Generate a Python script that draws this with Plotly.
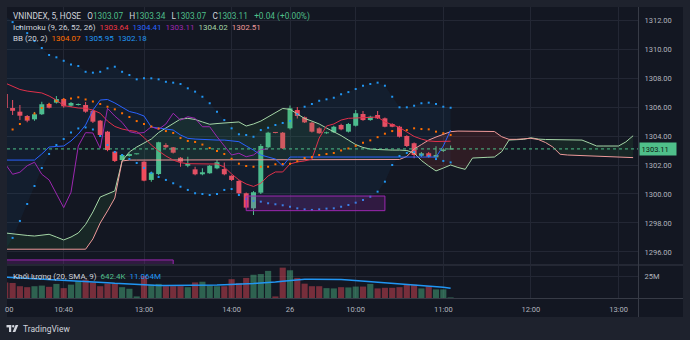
import plotly.graph_objects as go

# ---------------- data ----------------
opens = [1306.90, 1305.93, 1305.68, 1305.38, 1305.15, 1305.50, 1306.21, 1306.30, 1306.55, 1306.09,
         1306.14, 1306.14, 1305.74, 1305.06, 1304.30, 1302.92, 1302.34, 1302.62, 1302.74, 1302.23,
         1300.97, 1301.38, 1303.38, 1303.22, 1302.50, 1301.95, 1301.70, 1301.36, 1301.43, 1301.77,
         1301.72, 1301.26, 1300.90, 1300.05, 1299.01, 1300.09, 1303.22, 1304.23, 1304.23, 1304.53,
         1305.79, 1305.29, 1304.92, 1304.53, 1304.19, 1304.26, 1304.76, 1304.30, 1304.71, 1305.52,
         1305.10, 1305.45, 1305.22, 1304.83, 1304.64, 1304.00, 1303.50, 1302.64, 1302.81, 1302.53,
         1302.97, 1303.07]
highs = [1307.00, 1306.48, 1306.14, 1305.45, 1305.66, 1306.37, 1306.30, 1306.76, 1306.62, 1306.35,
         1306.25, 1306.34, 1305.80, 1305.10, 1304.35, 1302.97, 1302.75, 1302.80, 1302.78, 1302.25,
         1301.55, 1303.60, 1303.50, 1303.25, 1302.55, 1302.57, 1301.88, 1301.77, 1302.00, 1302.34,
         1302.17, 1301.30, 1300.95, 1300.10, 1300.20, 1303.45, 1304.30, 1304.25, 1304.28, 1306.10,
         1306.00, 1305.35, 1304.98, 1304.60, 1304.30, 1304.70, 1304.85, 1304.90, 1305.79, 1305.72,
         1305.40, 1305.72, 1305.28, 1304.88, 1304.70, 1304.05, 1303.55, 1302.90, 1302.90, 1303.29,
         1303.15, 1303.34]
lows = [1305.85, 1305.45, 1305.10, 1304.95, 1305.05, 1305.45, 1305.90, 1306.25, 1305.95, 1306.00,
        1306.10, 1305.60, 1304.90, 1303.93, 1302.95, 1302.20, 1302.30, 1302.58, 1302.72, 1300.88,
        1300.85, 1301.30, 1303.15, 1302.80, 1301.88, 1301.85, 1301.30, 1301.30, 1301.40, 1301.70,
        1301.30, 1300.90, 1300.00, 1299.00, 1298.55, 1300.00, 1303.15, 1304.19, 1303.10, 1304.45,
        1305.20, 1304.90, 1304.25, 1304.15, 1304.15, 1304.20, 1304.40, 1304.25, 1304.65, 1305.05,
        1305.05, 1305.18, 1304.60, 1304.60, 1303.90, 1303.25, 1302.46, 1302.55, 1302.50, 1302.48,
        1302.90, 1303.07]
closes = [1305.93, 1305.74, 1305.40, 1305.06, 1305.50, 1306.19, 1305.95, 1306.55, 1306.05, 1306.28,
          1306.21, 1305.68, 1304.99, 1304.07, 1303.03, 1302.28, 1302.69, 1302.76, 1302.76, 1300.92,
          1301.47, 1303.57, 1303.22, 1302.85, 1302.23, 1302.07, 1301.36, 1301.50, 1301.95, 1302.19,
          1301.36, 1300.97, 1300.05, 1299.06, 1300.12, 1303.31, 1304.23, 1304.21, 1303.15, 1305.91,
          1305.38, 1304.94, 1304.30, 1304.19, 1304.24, 1304.64, 1304.46, 1304.83, 1305.57, 1305.10,
          1305.33, 1305.22, 1304.64, 1304.64, 1303.95, 1303.31, 1302.69, 1302.81, 1302.57, 1302.69,
          1303.07, 1303.11]
volumes_m = [17.7, 17.1, 13.4, 12.3, 13.4, 14.1, 12.7, 16.0, 11.2, 15.2,
             19.2, 20.7, 17.7, 13.4, 16.3, 16.3, 12.3, 10.5, 1.8, 25.0,
             15.2, 16.0, 13.4, 13.4, 13.4, 12.3, 17.7, 18.5, 14.1, 13.4,
             13.4, 21.4, 17.1, 22.8, 26.4, 27.2, 30.8, 1.8, 34.5, 31.5,
             22.8, 16.3, 13.4, 13.4, 11.2, 10.9, 12.3, 12.0, 13.0, 13.0,
             16.0, 10.9, 11.6, 11.6, 12.3, 15.2, 15.2, 10.9, 13.4, 9.8,
             9.8, 0.6424]
vol_ma_m = [23.6, 23.2, 22.6, 22.2, 21.4, 21.1, 20.8, 20.4, 20.1, 19.7,
            19.2, 18.8, 18.4, 17.7, 17.3, 16.7, 16.2, 15.8, 15.3, 15.0,
            14.7, 14.3, 14.1, 14.1, 14.1, 14.1, 14.1, 14.1, 14.3, 14.7,
            15.0, 15.2, 15.7, 16.1, 16.5, 17.1, 17.4, 18.2, 19.0, 19.9,
            21.1, 21.4, 21.4, 21.4, 21.4, 21.4, 21.1, 20.4, 19.8, 19.2,
            18.7, 18.0, 17.4, 16.7, 16.0, 15.2, 14.6, 13.9, 13.3, 12.7,
            12.2, 11.064]
tenkan = [1307.65, 1307.45, 1307.21, 1307.10, 1307.03, 1306.97, 1306.76, 1306.48, 1306.10, 1306.00,
          1305.93, 1305.91, 1305.79, 1305.57, 1305.03, 1304.66, 1304.48, 1304.38, 1304.31, 1303.90,
          1303.38, 1302.97, 1302.62, 1302.34, 1302.16, 1302.09, 1302.07, 1302.07, 1302.07, 1302.07,
          1301.86, 1301.38, 1300.97, 1300.69, 1300.52, 1300.74, 1301.24, 1301.52, 1301.52, 1302.07,
          1302.21, 1302.28, 1302.41, 1303.86, 1304.69, 1304.83, 1305.10, 1305.22, 1305.24, 1305.29,
          1305.31, 1305.31, 1304.97, 1304.76, 1304.59, 1304.28, 1303.97, 1303.79, 1303.66, 1303.62,
          1303.62, 1303.64]
kijun = [1302.34, 1302.34, 1302.34, 1302.34, 1302.34, 1302.76, 1303.24, 1303.28, 1303.31, 1303.66,
         1304.14, 1304.76, 1305.79, 1306.48, 1306.52, 1306.28, 1306.00, 1305.69, 1305.57, 1305.38,
         1304.62, 1304.55, 1304.53, 1304.41, 1304.07, 1303.84, 1303.79, 1303.76, 1303.72, 1303.72,
         1303.72, 1303.69, 1303.61, 1303.31, 1303.03, 1302.69, 1302.57, 1302.41, 1301.93, 1302.55,
         1302.55, 1302.55, 1302.55, 1302.55, 1302.55, 1302.55, 1302.55, 1302.55, 1302.55, 1302.55,
         1302.55, 1302.55, 1302.55, 1302.55, 1302.55, 1302.55, 1302.55, 1302.55, 1302.55, 1302.55,
         1303.31, 1304.41]
lead_a = [1297.31, 1297.24, 1297.17, 1297.14, 1297.10, 1297.17, 1297.22, 1297.03, 1296.83, 1297.03,
          1297.31, 1297.90, 1298.76, 1299.79, 1300.00, 1300.21, 1302.28, 1302.90, 1303.24, 1303.52,
          1303.79, 1304.24, 1304.55, 1304.90, 1305.17, 1305.22, 1305.14, 1304.97, 1304.81, 1304.86,
          1304.90, 1304.97, 1304.97, 1304.69, 1304.83, 1305.03, 1305.31, 1305.59, 1305.90, 1305.84,
          1305.52, 1305.21, 1305.03, 1304.83, 1304.55, 1304.31, 1304.03, 1303.72, 1303.41, 1303.21,
          1303.10, 1303.07, 1303.03, 1303.03, 1303.03, 1303.00, 1302.83, 1302.31, 1301.93, 1301.59,
          1301.79, 1302.00, 1301.83, 1301.70, 1302.48, 1302.53, 1302.53, 1302.55, 1302.92, 1303.72,
          1303.76, 1303.77, 1303.88, 1303.79, 1303.76, 1303.76, 1303.76, 1303.76, 1303.74, 1303.72,
          1303.52, 1303.31, 1303.31, 1303.31, 1303.31, 1303.59, 1304.02]
lead_b = [1296.19, 1296.19, 1296.19, 1296.19, 1296.19, 1296.19, 1296.19, 1296.19, 1296.19, 1296.19,
          1296.19, 1296.19, 1296.90, 1298.00, 1298.83, 1299.72, 1302.28, 1302.34, 1302.34, 1302.34,
          1302.34, 1302.34, 1302.34, 1302.34, 1302.34, 1302.34, 1302.34, 1302.34, 1302.34, 1302.34,
          1302.34, 1302.34, 1302.34, 1302.34, 1302.34, 1302.34, 1302.34, 1302.34, 1302.34, 1302.34,
          1302.34, 1302.34, 1302.34, 1302.34, 1302.34, 1302.34, 1302.34, 1302.34, 1302.34, 1302.34,
          1302.34, 1302.34, 1302.34, 1302.34, 1302.38, 1302.59, 1303.10, 1303.41, 1303.72, 1303.93,
          1304.14, 1304.30, 1304.34, 1304.34, 1304.34, 1304.34, 1304.34, 1304.31, 1303.95, 1303.77,
          1303.77, 1303.79, 1303.84, 1303.76, 1303.55, 1303.24, 1302.74, 1302.69, 1302.67, 1302.66,
          1302.66, 1302.64, 1302.64, 1302.62, 1302.60, 1302.57, 1302.51]
bb_basis = [1304.21, 1304.45, 1304.83, 1305.21, 1305.55, 1305.93, 1306.17, 1306.41, 1306.52, 1306.59,
            1306.67, 1306.52, 1306.38, 1306.21, 1306.02, 1305.84, 1305.57, 1305.31, 1305.03, 1304.83,
            1304.66, 1304.52, 1304.34, 1304.21, 1303.86, 1303.66, 1303.59, 1303.41, 1303.17, 1302.97,
            1302.76, 1302.43, 1302.09, 1301.93, 1301.88, 1301.88, 1301.88, 1302.05, 1302.07, 1302.08,
            1302.26, 1302.48, 1302.55, 1302.69, 1302.76, 1302.83, 1303.00, 1303.14, 1303.32, 1303.53,
            1303.70, 1303.92, 1304.16, 1304.34, 1304.34, 1304.41, 1304.53, 1304.48, 1304.46, 1304.30,
            1304.19, 1304.07]
bb_upper = [1312.28, 1311.86, 1311.52, 1311.10, 1310.55, 1310.07, 1309.59, 1309.43, 1309.19, 1308.94,
            1308.83, 1308.43, 1308.37, 1308.43, 1308.67, 1308.78, 1308.43, 1308.21, 1307.91, 1307.98,
            1307.98, 1307.91, 1307.74, 1307.68, 1307.59, 1307.29, 1307.06, 1306.71, 1306.26, 1305.68,
            1305.10, 1304.53, 1304.12, 1304.07, 1303.95, 1304.41, 1304.57, 1304.76, 1304.90, 1305.03,
            1305.50, 1306.02, 1306.21, 1306.43, 1306.53, 1306.64, 1306.88, 1307.03, 1307.24, 1307.47,
            1307.59, 1307.68, 1307.47, 1306.71, 1305.98, 1305.98, 1306.09, 1306.26, 1306.30, 1306.21,
            1306.02, 1305.95]
bb_lower = [1296.14, 1296.97, 1298.14, 1299.31, 1300.55, 1301.79, 1302.76, 1303.38, 1303.79, 1304.24,
            1304.52, 1304.59, 1304.45, 1304.00, 1303.38, 1302.90, 1302.69, 1302.41, 1302.14, 1301.79,
            1301.45, 1301.17, 1300.97, 1300.74, 1300.50, 1300.28, 1300.05, 1300.00, 1299.93, 1300.00,
            1300.28, 1300.34, 1299.93, 1299.66, 1299.52, 1299.47, 1299.36, 1299.29, 1299.22, 1299.12,
            1299.01, 1298.94, 1298.90, 1298.94, 1298.99, 1299.01, 1299.12, 1299.24, 1299.40, 1299.59,
            1299.81, 1300.16, 1300.85, 1302.00, 1302.62, 1302.83, 1302.90, 1302.69, 1302.62, 1302.41,
            1302.28, 1302.18]
tick_bars = [8, 19, 31, 39, 48, 60, 72, 84]
tick_labels = ["10:40", "13:00", "14:00", "26", "10:00", "11:00", "12:00", "13:00"]
cut_label = "00"          # visible tail of the "10:00" label clipped at the left edge
price_ticks = [1296, 1298, 1300, 1302, 1304, 1306, 1308, 1310, 1312]
LAG_SHIFT = 25
# user-drawn rectangles: (bar_from, bar_to, price_low, price_high)
boxes = [(33, 52, 1298.85, 1299.86), (-6, 23, 1294.0, 1295.45)]

# ---------------- figure ----------------
W, H = 690, 340
def px(x): return x / W
def py(y): return 1 - y / H

BG = '#131722'; FRAME = '#1e222d'; GRID = '#232734'; SEP = '#373b46'
TXT = '#b2b5be'; LBL = '#d1d4dc'; UP = '#4fbf8a'; DN = '#f04c5c'
FONT = 'Roboto, "Noto Sans", sans-serif'

n = len(closes)
bars = list(range(n))
lead_bars = list(range(len(lead_a)))
lag_bars = list(range(n - LAG_SHIFT))
lag_vals = closes[LAG_SHIFT:]
cloud_hi = [max(a, b) for a, b in zip(lead_a, lead_b)]
cloud_lo = [min(a, b) for a, b in zip(lead_a, lead_b)]
is_up = [c >= o for o, c in zip(opens, closes)]
ccol = [UP if u else DN for u in is_up]

fig = go.Figure()
def line(x, y, color, width=1, **kw):
    return go.Scatter(x=x, y=y, mode='lines', line=dict(color=color, width=width),
                      hoverinfo='skip', showlegend=False, **kw)

# BB fill
fig.add_trace(line(bars, bb_upper, 'rgba(0,0,0,0)', 0))
fig.add_trace(line(bars, bb_lower, 'rgba(0,0,0,0)', 0, fill='tonexty', fillcolor='rgba(33,150,243,0.06)'))
# Ichimoku cloud
fig.add_trace(line(lead_bars, lead_b, 'rgba(0,0,0,0)', 0))
fig.add_trace(line(lead_bars, cloud_hi, 'rgba(0,0,0,0)', 0, fill='tonexty', fillcolor='rgba(67,160,71,0.12)'))
fig.add_trace(line(lead_bars, lead_b, 'rgba(0,0,0,0)', 0))
fig.add_trace(line(lead_bars, cloud_lo, 'rgba(0,0,0,0)', 0, fill='tonexty', fillcolor='rgba(244,67,54,0.12)'))
fig.add_trace(line(lead_bars, lead_a, '#a5d6a7'))
fig.add_trace(line(lead_bars, lead_b, '#ef9a9a'))
fig.add_trace(line(bars, kijun, '#2962ff'))
fig.add_trace(line(bars, tenkan, '#e0304a'))
fig.add_trace(line(lag_bars, lag_vals, '#9c27b0'))
# BB dots
for arr, col in ((bb_upper, '#2196f3'), (bb_lower, '#2196f3'), (bb_basis, '#ff6d00')):
    fig.add_trace(go.Scatter(x=bars, y=arr, mode='markers', marker=dict(color=col, size=2, symbol='square'),
                             hoverinfo='skip', showlegend=False))
# candles: wicks then bodies (body drawn at least ~1px tall so dojis stay visible)
fig.add_trace(go.Bar(x=bars, base=lows, y=[h - l for h, l in zip(highs, lows)], width=0.14,
                     marker=dict(color=ccol, line=dict(width=0)), hoverinfo='skip', showlegend=False))
fig.add_trace(go.Bar(x=bars, base=[min(o, c) for o, c in zip(opens, closes)],
                     y=[max(abs(c - o), 0.07) for o, c in zip(opens, closes)], width=0.68,
                     marker=dict(color=ccol, line=dict(width=0)), hoverinfo='skip', showlegend=False))
# volume
vcol = ['rgba(79,191,138,0.45)' if u else 'rgba(240,76,92,0.45)' for u in is_up]
fig.add_trace(go.Bar(x=bars, y=volumes_m, marker=dict(color=vcol, line=dict(width=0)), width=0.84,
                     xaxis='x2', yaxis='y2', hoverinfo='skip', showlegend=False))
fig.add_trace(go.Scatter(x=bars, y=vol_ma_m, mode='lines', line=dict(color='#2196f3', width=1.5),
                         xaxis='x2', yaxis='y2', hoverinfo='skip', showlegend=False))

xr = [0.233, 86.67]
xdom = [px(7), px(638)]
fig.update_layout(
    width=W, height=H, margin=dict(l=0, r=0, t=0, b=0), barmode='overlay',
    paper_bgcolor=FRAME, plot_bgcolor='rgba(0,0,0,0)', hovermode=False, showlegend=False,
    font=dict(family=FONT, color=TXT, size=8),
    xaxis=dict(domain=xdom, range=xr, autorange=False, anchor='y', tickvals=tick_bars,
               showticklabels=False, showgrid=True, gridcolor=GRID, zeroline=False, fixedrange=True),
    yaxis=dict(domain=[py(264), py(7)], range=[1295.17, 1312.90], autorange=False, anchor='x',
               side='right', tickvals=price_ticks, ticktext=[f"{v:.2f}" for v in price_ticks],
               tickfont=dict(size=7.5, color=TXT), ticks='outside', ticklen=4,
               tickcolor='rgba(0,0,0,0)', showgrid=True, gridcolor=GRID, zeroline=False, fixedrange=True),
    xaxis2=dict(domain=xdom, range=xr, autorange=False, anchor='y2', matches='x',
                tickvals=tick_bars, ticktext=tick_labels, tickfont=dict(size=7.5, color=TXT),
                ticks='outside', ticklen=4, tickcolor='rgba(0,0,0,0)',
                showgrid=True, gridcolor=GRID, zeroline=False, fixedrange=True),
    yaxis2=dict(domain=[py(298), py(266)], range=[0, 36.36], autorange=False, anchor='x2',
                side='right', tickvals=[25], ticktext=['25M'], tickfont=dict(size=7.5, color=TXT),
                ticks='outside', ticklen=4, tickcolor='rgba(0,0,0,0)',
                showgrid=True, gridcolor=GRID, zeroline=False, fixedrange=True),
)

shapes = [
    dict(type='rect', xref='paper', yref='paper', x0=px(7), x1=px(683), y0=py(317), y1=py(7),
         fillcolor=BG, line=dict(width=0), layer='below'),
    dict(type='line', xref='paper', yref='paper', x0=px(7), x1=px(683), y0=py(265), y1=py(265),
         line=dict(color=SEP, width=1)),
    dict(type='line', xref='paper', yref='paper', x0=px(7), x1=px(683), y0=py(298.5), y1=py(298.5),
         line=dict(color=SEP, width=1)),
    dict(type='line', xref='paper', yref='paper', x0=px(638.5), x1=px(638.5), y0=py(317), y1=py(7),
         line=dict(color=SEP, width=1)),
    dict(type='line', xref='paper', yref='y', x0=px(7), x1=px(638), y0=closes[-1], y1=closes[-1],
         line=dict(color=UP, width=1, dash='dot')),
    # TradingView logo
    dict(type='rect', xref='paper', yref='paper', x0=px(6.5), x1=px(11.2), y0=py(327.4), y1=py(325),
         fillcolor=LBL, line=dict(width=0)),
    dict(type='rect', xref='paper', yref='paper', x0=px(9), x1=px(11.2), y0=py(332), y1=py(325),
         fillcolor=LBL, line=dict(width=0)),
    dict(type='circle', xref='paper', yref='paper', x0=px(12), x1=px(14.4), y0=py(327.4), y1=py(325),
         fillcolor=LBL, line=dict(width=0)),
    dict(type='path', xref='paper', yref='paper',
         path=f"M {px(15.6)},{py(325)} L {px(18.3)},{py(325)} L {px(15.3)},{py(332)} L {px(12.6)},{py(332)} Z",
         fillcolor=LBL, line=dict(width=0)),
]
for b0, b1, lo, hi in boxes:
    shapes.append(dict(type='rect', xref='x', yref='y', x0=b0, x1=b1, y0=lo, y1=hi,
                       fillcolor='rgba(156,39,176,0.22)', line=dict(color='#9c27b0', width=1), layer='above'))
fig.update_layout(shapes=shapes)

def sp(t, c):
    return f'<span style="color:{c}">{t}</span>'
G = '&nbsp;&nbsp;'
G1 = '&nbsp;&nbsp;&nbsp;'
line1 = (f"VNINDEX, 5, HOSE{G1}O{sp(f'{opens[-1]:.2f}', UP)}{G1}H{sp(f'{highs[-1]:.2f}', UP)}{G1}"
         f"L{sp(f'{lows[-1]:.2f}', UP)}{G1}C{sp(f'{closes[-1]:.2f}', UP)}{G1}"
         f"{sp(f'+{closes[-1]-closes[-2]:.2f} (+0.00%)', UP)}")
line2 = (f"Ichimoku (9, 26, 52, 26){G}{sp(f'{tenkan[-1]:.2f}', '#f23645')}{G}"
         f"{sp(f'{kijun[-1]:.2f}', '#2962ff')}{G}{sp(f'{closes[-1]:.2f}', '#9c27b0')}{G}"
         f"{sp(f'{lead_a[-1]:.2f}', '#a5d6a7')}{G}{sp(f'{lead_b[-1]:.2f}', '#ef9a9a')}")
line3 = (f"BB (20, 2){G}{sp(f'{bb_basis[-1]:.2f}', '#ff6d00')}{G}"
         f"{sp(f'{bb_upper[-1]:.2f}', '#2196f3')}{G}{sp(f'{bb_lower[-1]:.2f}', '#2196f3')}")
line4 = (f"Khối lượng (20, SMA, 9){G}{sp(f'{volumes_m[-1]*1000:.1f}K', UP)}{G}"
         f"{sp(f'{vol_ma_m[-1]:.3f}M', '#2196f3')}")

ann = []
for txt, y, fs in ((line1, 16, 8.3), (line2, 27.7, 8), (line3, 38.7, 8), (line4, 276, 8)):
    ann.append(dict(xref='paper', yref='paper', x=px(11), y=py(y), xanchor='left', yanchor='middle',
                    text=txt, showarrow=False, font=dict(size=fs, color=LBL, family=FONT)))
ann.append(dict(xref='paper', yref='y', x=px(639), y=closes[-1], xanchor='left', yanchor='middle',
                text=f"{closes[-1]:.2f}", showarrow=False, bgcolor=UP, borderpad=1.5, width=33, align='left',
                font=dict(size=7.5, color='#0c1a14', family=FONT)))
ann.append(dict(xref='paper', yref='paper', x=px(14.8), y=py(309), xanchor='right', yanchor='middle',
                text=cut_label, showarrow=False, font=dict(size=7.5, color=TXT, family=FONT)))
ann.append(dict(xref='paper', yref='paper', x=px(20.5), y=py(328.5), xanchor='left', yanchor='middle',
                text='TradingView', showarrow=False, font=dict(size=8.5, color=LBL, family=FONT)))
fig.update_layout(annotations=ann)

fig.write_html("out.html", config=dict(displayModeBar=False, staticPlot=True))
